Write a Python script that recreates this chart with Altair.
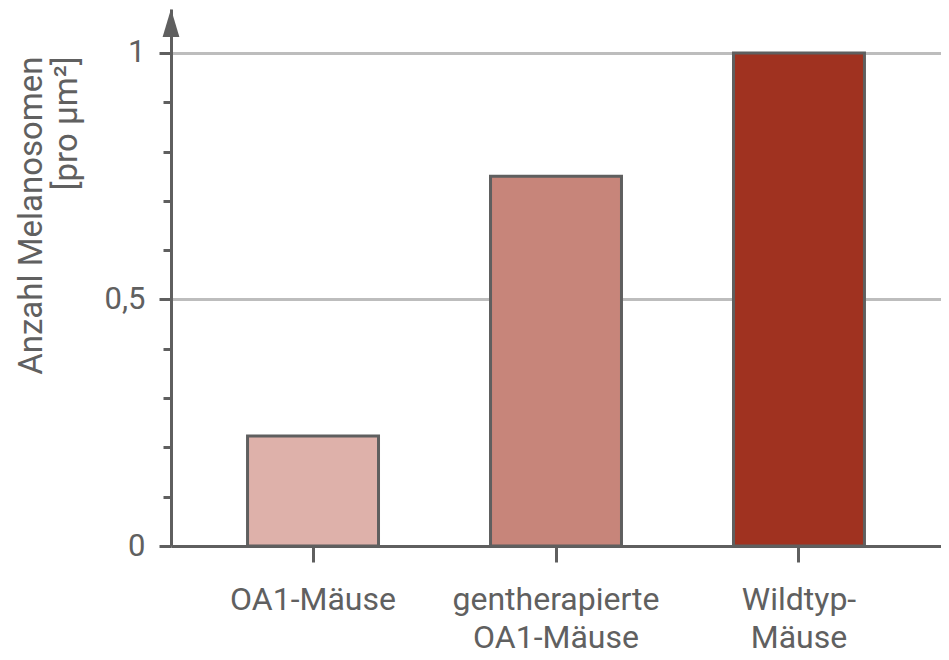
import altair as alt
import pandas as pd

categories = ["OA1-Mäuse", "gentherapierte\nOA1-Mäuse", "Wildtyp-\nMäuse"]
values = [0.223, 0.75, 1.0]
colors = ["#deb1aa", "#c7857a", "#a03220"]
y_ticks = [0, 0.1, 0.2, 0.3, 0.4, 0.5, 0.6, 0.7, 0.8, 0.9, 1.0]
y_title = ["Anzahl Melanosomen", "[pro µm²]"]
Y_MAX = 1.089

TEXT = "#606060"
AXIS = "#5f5f5f"
FONT = "Roboto"

df = pd.DataFrame({"cat": categories, "val": values, "col": colors})
top_df = pd.DataFrame({"val": [Y_MAX]})

major = "datum.value == 0 || datum.value == 0.5 || datum.value == 1"

y_axis = alt.Axis(
    values=y_ticks,
    labelExpr="datum.value == 0 ? '0' : datum.value == 0.5 ? '0,5' : datum.value == 1 ? '1' : ''",
    labelFont=FONT, labelFontSize=31, labelColor=TEXT, labelPadding=14,
    tickSize={"condition": {"test": major, "value": 12}, "value": 8},
    tickWidth=3, tickColor=AXIS, domainColor=AXIS, domainWidth=3,
    grid=True, gridColor="#bdbdbd", gridWidth=3,
    gridOpacity={"condition": {"test": "datum.value == 0.5 || datum.value == 1", "value": 1}, "value": 0},
    title=y_title, titleFont=FONT, titleFontSize=33, titleFontWeight="normal",
    titleColor=TEXT, titleAngle=270, titleAlign="right", titleBaseline="bottom",
    titleX=-123, titleY=47, titleLineHeight=35,
)
y_scale = alt.Scale(domain=[0, Y_MAX], nice=False, zero=True)

bars = alt.Chart(df).mark_bar(stroke=AXIS, strokeWidth=3).encode(
    x=alt.X(
        "cat:N",
        sort=categories,
        scale=alt.Scale(paddingInner=0.461, paddingOuter=0.315),
        axis=alt.Axis(
            title=None, labelAngle=0, labelExpr="split(datum.label, '\\n')",
            labelFont=FONT, labelFontSize=32, labelColor=TEXT, labelPadding=22,
            labelLineHeight=38, labelLimit=0, tickSize=16, tickWidth=3, tickColor=AXIS,
            domainColor=AXIS, domainWidth=3, grid=False,
        ),
    ),
    y=alt.Y("val:Q", scale=y_scale, axis=y_axis),
    color=alt.Color("col:N", scale=None, legend=None),
)

arrow = alt.Chart(top_df).mark_point(
    shape="M0,-1L0.6,1L-0.6,1Z", size=784, filled=True, fill=AXIS, opacity=1,
    strokeWidth=0, yOffset=14,
).encode(
    x=alt.value(0),
    y=alt.Y("val:Q", scale=y_scale, axis=y_axis),
)

chart = alt.layer(bars, arrow).properties(
    width=770, height=537,
    padding={"left": 163, "top": 1, "right": 0, "bottom": 110},
    autosize=alt.AutoSizeParams(type="none"),
).configure_view(stroke=None)

chart.save("out.html", embed_options={"renderer": "svg", "actions": False})
